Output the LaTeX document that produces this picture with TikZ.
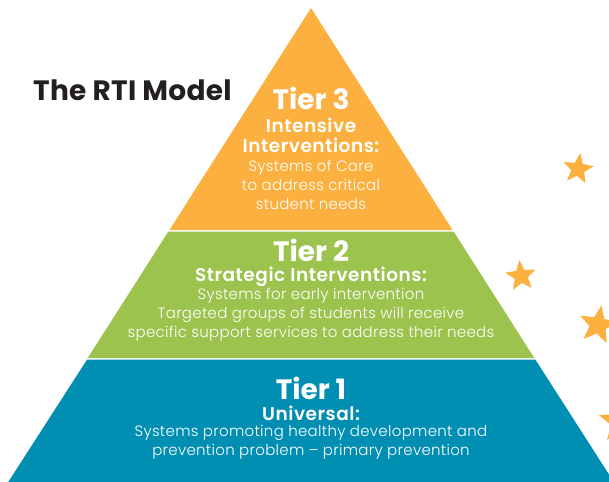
\documentclass[tikz,border=0pt]{standalone}
\usepackage{fontspec}
\setmainfont{Poppins}
\IfFontExistsTF{Poppins Light}{\newfontfamily\tierlight{Poppins Light}}{\newfontfamily\tierlight{Poppins}}
\IfFontExistsTF{Poppins SemiBold}{\newfontfamily\tiersemi{Poppins SemiBold}}{\newfontfamily\tiersemi{Poppins}[UprightFont=*-Bold]}
\usetikzlibrary{shapes.geometric}
\definecolor{tierorange}{HTML}{FBB040}
\definecolor{tiergreen}{HTML}{9DC34F}
\definecolor{tierblue}{HTML}{008FB3}
\definecolor{titlegray}{HTML}{231F20}

\begin{document}
\begin{tikzpicture}[x=1pt,y=-1pt]

\tikzset{tiername/.style={text=white,font=\bfseries\fontsize{28}{28}\selectfont,inner sep=0pt,anchor=center},
	tiersub/.style={text=white,font=\tiersemi\fontsize{18.5}{20}\selectfont\addfontfeature{LetterSpace=3},inner sep=0pt,align=center},
	tiertext/.style={text=white,font=\tierlight\fontsize{15}{19}\selectfont\addfontfeature{LetterSpace=2},inner sep=0pt,align=center},
	starnode/.style={star,star points=5,star point ratio=2.3,fill=tierorange,draw=none,inner sep=0pt}}

\useasboundingbox (0,0) rectangle (609,481);
\clip (0,0) rectangle (609,481);

\fill[tierorange] (311,8)--(452.6,230)--(169.4,230)--cycle;
\fill[tiergreen] (168.4,231.5)--(453.6,231.5)--(534.3,358)--(87.7,358)--cycle;
\fill[tierblue] (87.1,359.5)--(535.3,359.5)--(617,487)--(5,487)--cycle;

\node[text=titlegray,font=\bfseries\fontsize{28}{28}\selectfont\addfontfeature{LetterSpace=1},inner sep=0pt,anchor=west] (title) at (33,90) {The RTI Model};

%===================================================================
\node[tiername] (t3name) at (311,98) {Tier 3};
\node[tiersub] (t3sub) at (311,135) {Intensive\\Interventions:};
\node[tiertext] (t3text) at (311,185) {Systems of Care\\to address critical\\student needs};

%===================================================================
\node[tiername] (t2name) at (311,250) {Tier 2};
\node[tiersub] (t2sub) at (311,277) {Strategic Interventions:};
\node[tiertext] (t2text) at (311,314.5) {Systems for early intervention\\Targeted groups of students will receive\\specific support services to address their needs};

%===================================================================
\node[tiername] (t1name) at (311,388) {Tier 1};
\node[tiersub] (t1sub) at (311,413) {Universal:};
\node[tiertext] (t1text) at (311,442.5) {Systems promoting healthy development and\\prevention problem – primary prevention};

\node[starnode,minimum size=32pt,rotate=-8] (star1) at (578,169) {};
\node[starnode,minimum size=32pt,rotate=6] (star2) at (521,276) {};
\node[starnode,minimum size=40pt,rotate=-10] (star3) at (598,325) {};
\node[starnode,minimum size=44pt] (star4) at (620,422) {};
\end{tikzpicture}
\end{document}
